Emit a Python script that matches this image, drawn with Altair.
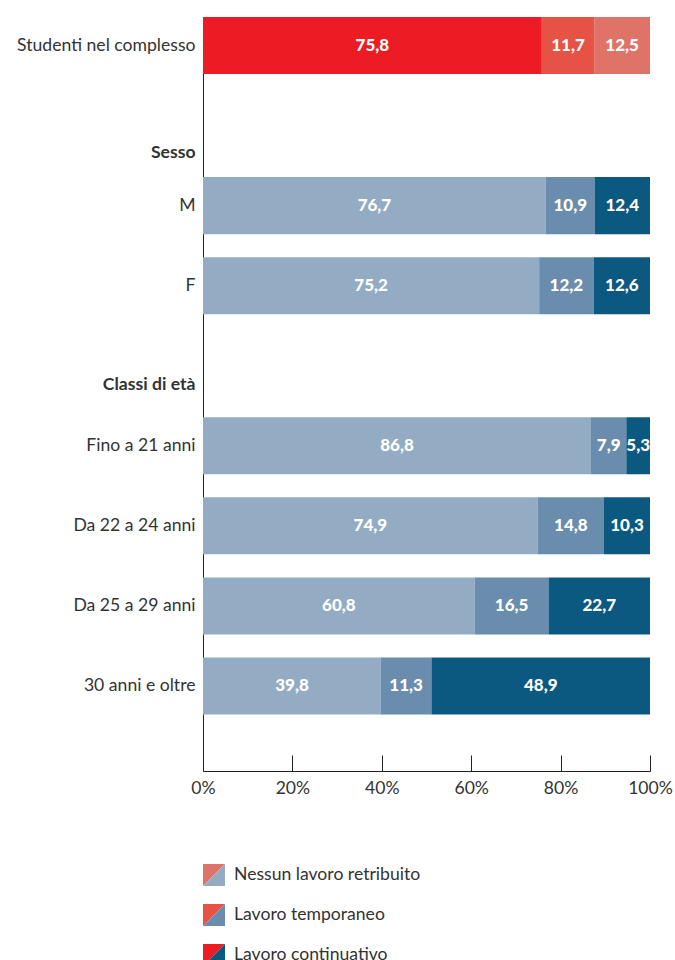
import altair as alt
import pandas as pd

categories = ["Studenti nel complesso", "M", "F", "Fino a 21 anni",
              "Da 22 a 24 anni", "Da 25 a 29 anni", "30 anni e oltre"]
groups = ["tot", "blu", "blu", "blu", "blu", "blu", "blu"]
series = ["Nessun lavoro retribuito", "Lavoro temporaneo", "Lavoro continuativo"]
nessun = [75.8, 76.7, 75.2, 86.8, 74.9, 60.8, 39.8]
temporaneo = [11.7, 10.9, 12.2, 7.9, 14.8, 16.5, 11.3]
continuativo = [12.5, 12.4, 12.6, 5.3, 10.3, 22.7, 48.9]
y_domain = ["Studenti nel complesso", "Sesso", "M", "F", "Classi di età",
            "Fino a 21 anni", "Da 22 a 24 anni", "Da 25 a 29 anni", "30 anni e oltre"]
headers = ["Sesso", "Classi di età"]
tick_values = [0, 20, 40, 60, 80, 100]

red_colors = ["#ED1C24", "#E65244", "#E07367"]
blue_colors = ["#93ACC4", "#6A8DAD", "#0B5880"]
legend_top = ["#E07367", "#E65244", "#ED1C24"]
legend_bottom = ["#93ACC4", "#6A8DAD", "#0B5880"]

FONT = "Lato"
TXT = "#333333"
FS = 17.6

rows = []
for i, cat in enumerate(categories):
    for j, (s, vals) in enumerate(zip(series, [nessun, temporaneo, continuativo])):
        rows.append({"cat": cat, "serie": s, "ord": j, "v": vals[i],
                     "key": f"{groups[i]}|{j}"})
df = pd.DataFrame(rows)

color_domain = [f"tot|{j}" for j in range(3)] + [f"blu|{j}" for j in range(3)]
color_range = red_colors + blue_colors

y_scale = alt.Scale(domain=y_domain, paddingInner=0.2875, paddingOuter=0.353, align=0)

label_weight = {"condition": {"test": "datum.value == 'Sesso' || datum.value == 'Classi di età'",
                              "value": "bold"}, "value": "normal"}
label_offset = {"condition": [{"test": "datum.value == 'Sesso'", "value": 27},
                              {"test": "datum.value == 'Classi di età'", "value": 19}],
                "value": 0}

y_enc = alt.Y("cat:N", scale=y_scale, sort=y_domain, title=None,
              axis=alt.Axis(domain=True, domainColor="#222", ticks=False, labelPadding=8,
                            labelFont=FONT, labelFontSize=FS, labelColor=TXT,
                            labelFontWeight=label_weight, labelOffset=label_offset,
                            labelLimit=300))

x_scale = alt.Scale(domain=[0, 100], nice=False)

base = alt.Chart(df)

bars = base.mark_bar().encode(
    x=alt.X("sum(v):Q", stack="zero", scale=x_scale, title=None,
            axis=alt.Axis(values=tick_values, ticks=False, domainColor="#222",
                          labelExpr="datum.value + '%'", labelFont=FONT,
                          labelFontSize=FS, labelColor=TXT, labelPadding=8,
                          labelFlush=False, grid=False, orient="bottom")),
    y=y_enc,
    color=alt.Color("key:N", scale=alt.Scale(domain=color_domain, range=color_range), legend=None),
    order=alt.Order("ord:Q"),
)

texts = base.transform_stack(
    stack="v", groupby=["cat"], as_=["v0", "v1"], sort=[alt.SortField("ord")]
).transform_calculate(
    mid="(datum.v0 + datum.v1) / 2",
    lab="replace(format(datum.v, '.1f'), '.', ',')",
).mark_text(font=FONT, fontSize=17, fontWeight=900, color="white").encode(
    x=alt.X("mid:Q", scale=x_scale, axis=None),
    y=alt.Y("cat:N", scale=y_scale, sort=y_domain),
    text="lab:N",
)

tick_df = pd.DataFrame({"t": tick_values})
ticks = alt.Chart(tick_df).mark_point(opacity=0).encode(
    x=alt.X("t:Q", scale=x_scale, title=None,
            axis=alt.Axis(values=tick_values, labels=False, domain=False, ticks=True,
                          tickSize=16, tickColor="#222", offset=-16, grid=False,
                          orient="bottom")),
)

main = alt.layer(bars, texts, ticks).resolve_axis(x="independent").properties(
    width=447, height=754)

leg_df = pd.DataFrame({"serie": series, "top": legend_top, "bottom": legend_bottom})
leg_y = alt.Y("serie:N", sort=series, axis=None,
              scale=alt.Scale(paddingInner=0, paddingOuter=0))
tri_top = alt.Chart(leg_df).mark_point(
    shape="M-1,-1L1,-1L-1,1Z", size=484, filled=True, opacity=1, strokeWidth=0
).encode(x=alt.value(11), y=leg_y, color=alt.Color("top:N", scale=None))
tri_bot = alt.Chart(leg_df).mark_point(
    shape="M1,-1L1,1L-1,1Z", size=484, filled=True, opacity=1, strokeWidth=0
).encode(x=alt.value(11), y=leg_y, color=alt.Color("bottom:N", scale=None))
leg_text = alt.Chart(leg_df).mark_text(
    align="left", font=FONT, fontSize=FS, color=TXT
).encode(x=alt.value(31), y=leg_y, text="serie:N")
legend = alt.layer(tri_top, tri_bot, leg_text).properties(width=447, height=120)

chart = alt.vconcat(main, legend, spacing=58).properties(
    padding={"left": 16, "top": 17, "right": 0, "bottom": 5}
).configure_view(stroke=None)

chart.save("out.html", embed_options={"renderer": "svg", "actions": False})
